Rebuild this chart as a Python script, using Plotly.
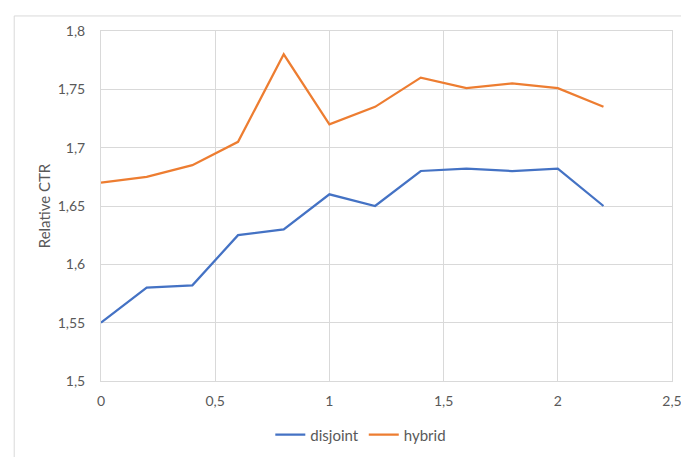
import plotly.graph_objects as go

x_vals = [0, 0.2, 0.4, 0.6, 0.8, 1.0, 1.2, 1.4, 1.6, 1.8, 2.0, 2.2]
disjoint = [1.55, 1.58, 1.582, 1.625, 1.63, 1.66, 1.65, 1.68, 1.682, 1.68, 1.682, 1.65]
hybrid = [1.67, 1.675, 1.685, 1.705, 1.78, 1.72, 1.735, 1.76, 1.751, 1.755, 1.751, 1.735]

font_fam = "Lato, 'Liberation Sans', sans-serif"
grid = "#d9d9d9"
txt = "#595959"

fig = go.Figure()
fig.add_trace(go.Scatter(x=x_vals, y=disjoint, mode="lines", name="disjoint",
                         line=dict(color="#4472C4", width=2.25)))
fig.add_trace(go.Scatter(x=x_vals, y=hybrid, mode="lines", name="hybrid",
                         line=dict(color="#ED7D31", width=2.25)))

fig.update_layout(
    width=681, height=449,
    margin=dict(l=93, r=17, t=23, b=76, autoexpand=False),
    paper_bgcolor="white", plot_bgcolor="white",
    separators=",.",
    font=dict(family=font_fam, size=14, color=txt),
    showlegend=True,
    legend=dict(orientation="h", x=0.455, xanchor="center", yref="container", y=0.049,
                yanchor="middle", font=dict(size=15, color=txt), itemwidth=30,
                traceorder="normal"),
    xaxis=dict(range=[0, 2.5], dtick=0.5, tick0=0, showgrid=True, gridcolor=grid, gridwidth=1,
               showline=True, linecolor=grid, mirror=True, zeroline=False, ticks="",
               ticklabelstandoff=7, automargin=False),
    yaxis=dict(range=[1.5, 1.8], dtick=0.05, tick0=1.5, showgrid=True, gridcolor=grid, gridwidth=1,
               showline=True, linecolor=grid, mirror=True, zeroline=False, ticks="",
               ticklabelstandoff=12, automargin=False,
               title=dict(text="Relative CTR", font=dict(size=15, color=txt), standoff=3)),
    shapes=[dict(type="rect", xref="paper", yref="paper", x0=-0.152, x1=1.2, y0=-0.5, y1=1.043,
                 line=dict(color="#d9d9d9", width=1), fillcolor="rgba(0,0,0,0)", layer="below")],
)

fig.write_html("out.html")
